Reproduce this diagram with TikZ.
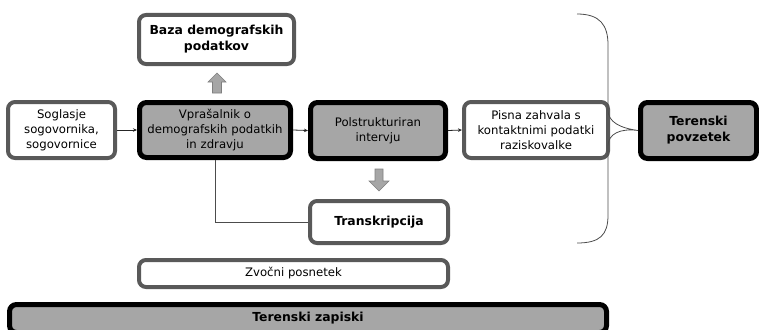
\documentclass[tikz,border=0pt]{standalone}
\usepackage{fontspec}
\setmainfont{DejaVu Sans}
\usetikzlibrary{arrows.meta}
\definecolor{boxgray}{HTML}{A6A6A6}
\definecolor{edgegray}{HTML}{595959}
\definecolor{arrgray}{HTML}{7F7F7F}
\begin{document}
\begin{tikzpicture}[x=1pt,y=-1pt,
  every node/.style={font=\fontsize{11.7}{15}\selectfont, align=center, inner sep=0pt},
  boldtext/.style={font=\fontsize{12.4}{16}\selectfont\bfseries},
  lightbox/.style={draw=edgegray, line width=4pt, rounded corners=7pt, fill=white},
  darkbox/.style={draw=black, line width=5pt, rounded corners=7pt, fill=boxgray},
  conn/.style={draw=black!85, line width=0.8pt, -{Stealth[length=4pt,width=3.5pt]}},
  plainconn/.style={draw=black!70, line width=0.7pt},
  blockarrow/.style={fill=boxgray, draw=arrgray, line width=0.6pt},
  bracepath/.style={draw=black!70, line width=0.8pt}]
\useasboundingbox (0,0) rectangle (759,329);
% boxes
\node[lightbox, boldtext, minimum width=155pt, minimum height=49pt] (baza) at (216.5,39.5) {Baza demografskih\\podatkov};
\node[lightbox, minimum width=107pt, minimum height=56pt] (sog) at (61.5,130) {Soglasje\\sogovornika,\\sogovornice};
\node[darkbox, minimum width=151pt, minimum height=55pt] (vpr) at (215,130) {Vprašalnik o\\demografskih podatkih\\in zdravju};
\node[darkbox, minimum width=135pt, minimum height=56pt] (pol) at (378,130.5) {Polstrukturiran\\intervju};
\node[lightbox, minimum width=144pt, minimum height=56pt] (pis) at (536,130) {Pisna zahvala s\\kontaktnimi podatki\\raziskovalke};
\node[darkbox, boldtext, minimum width=116pt, minimum height=56pt] (ter) at (698.5,130.5) {Terenski\\povzetek};
\node[lightbox, boldtext, minimum width=138pt, minimum height=42pt] (tra) at (379,222) {Transkripcija};
\node[lightbox, minimum width=309pt, minimum height=27pt] (zvo) at (293.5,273.5) {Zvočni posnetek};
\node[darkbox, boldtext, minimum width=597pt, minimum height=28pt] (zap) at (308,318.5) {Terenski zapiski};
% connectors
\draw[conn] (sog.east) -- (vpr.west);
\draw[conn] (vpr.east) -- (pol.west);
\draw[conn] (pol.east) -- (pis.west);
\coordinate (bend) at (vpr.south |- tra.west);
\draw[plainconn] (vpr.south) -- (bend) -- (tra.west);
% block arrows
\draw[blockarrow] (217,73) -- (226,82) -- (221.5,82) -- (221.5,93) -- (212.5,93) -- (212.5,82) -- (208,82) -- cycle;
\draw[blockarrow] (379,191) -- (389,181) -- (383,181) -- (383,169) -- (375,169) -- (375,181) -- (369,181) -- cycle;
% brace
\coordinate (tip) at (ter.west);
\draw[bracepath] (577,14) .. controls (600,14) and (608,25) .. (608,45) -- (608,110)
  .. controls (608,122) and (620,128) .. (tip)
  .. controls (620,128) and (608,134) .. (608,146) -- (608,215)
  .. controls (608,235) and (600,243) .. (577,243);
\end{tikzpicture}
\end{document}
